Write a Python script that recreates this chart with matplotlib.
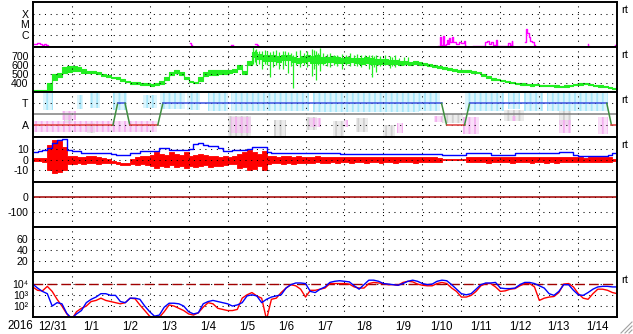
"""Space weather summary strip chart, 12/31/2015 - 1/14/2016."""
import numpy as np
import matplotlib

matplotlib.use("Agg")
import matplotlib.pyplot as plt
from matplotlib.lines import Line2D

plt.rcParams["font.family"] = ["Liberation Sans", "DejaVu Sans"]
plt.rcParams["hatch.linewidth"] = 1.3

# ---- data -----------------------------------------------------------------
# 3-hourly sample grid, day 0 = 12/31 00:00 UT
hours = np.arange(0, 361, 3)

day_labels = ["12/31", "1/1", "1/2", "1/3", "1/4", "1/5", "1/6", "1/7",
              "1/8", "1/9", "1/10", "1/11", "1/12", "1/13", "1/14"]

# X-ray flux (W/m2); nan = below the plot floor
nan = np.nan
xray_day = [0.0, 0.06, 0.12, 0.18, 0.24, 0.28, 0.33, 0.38, 0.40,
            4.03, 4.06, 4.08,
            5.10, 5.13,
            5.70, 5.75, 5.77,
            10.39, 10.44, 10.47, 10.52, 10.55, 10.60, 10.62, 10.65, 10.68,
            10.70, 10.75, 10.78, 10.85, 10.93, 10.98, 11.06, 11.09, 11.11,
            11.29, 11.55, 11.60, 11.65, 11.70, 11.75, 11.80, 11.88, 11.92,
            12.16, 12.20, 12.25, 12.29, 12.31, 12.33,
            12.62, 12.66, 12.69, 12.73, 12.77, 12.80, 12.85, 12.88,
            14.24, 14.26, 14.28,
            14.93, 14.96]
xray_flux = [1.3e-7, 1.6e-7, 1.9e-7, 1.5e-7, 1.1e-7, 1.6e-7, 1.2e-7, 1.0e-7, nan,
             1.7e-7, 1.2e-7, nan,
             1.1e-7, nan,
             1.4e-7, 1.1e-7, nan,
             1.0e-7, 7.0e-7, 1.1e-7, 8.0e-7, 1.2e-7, 1.5e-7, 3.4e-7, 1.5e-7, 5.0e-7,
             2.0e-7, 6.0e-7, 2.0e-7, 1.3e-7, 2.2e-7, 1.8e-7, 3.0e-7, 1.0e-7, nan,
             1.0e-7, 1.0e-7, 2.0e-7, 2.6e-7, 1.5e-7, 2.0e-7, 1.2e-7, 3.5e-7, 1.0e-7,
             1.0e-7, 1.8e-7, 1.2e-7, 3.0e-7, 1.0e-7, nan,
             2.0e-7, 3.7e-6, 1.5e-6, 6.0e-7, 3.0e-7, 2.0e-7, 1.2e-7, nan,
             1.6e-7, 1.0e-7, nan,
             1.1e-7, nan]

# solar wind speed (km/s), 3-hourly core band
wind_lo = [320, 320, 320, 325, 440, 470, 520, 530,
           540, 540, 520, 510, 510, 505, 485, 470,
           455, 445, 430, 410, 395, 390, 385, 380,
           375, 380, 395, 440, 495, 520, 495, 445,
           410, 400, 430, 480, 490, 495, 500, 505,
           515, 530, 560, 505, 600, 690, 670, 650,
           650, 650, 640, 655, 660, 635, 625, 640,
           650, 630, 630, 630, 640, 640, 625, 625,
           630, 635, 625, 620, 630, 620, 610, 615,
           610, 610, 615, 605, 612, 608, 612, 602,
           600, 595, 585, 570, 558, 550, 540, 530,
           530, 525, 520, 510, 485, 462, 442, 432,
           422, 410, 400, 392, 385, 380, 375, 376,
           372, 368, 365, 364, 362, 364, 366, 378,
           386, 390, 382, 374, 364, 356, 346, 340,
           344]
wind_hi = [330, 330, 330, 400, 500, 520, 585, 590,
           590, 585, 560, 535, 535, 530, 505, 490,
           475, 465, 450, 430, 415, 410, 405, 400,
           395, 400, 425, 475, 525, 550, 525, 475,
           430, 420, 470, 530, 545, 545, 545, 545,
           545, 560, 600, 540, 650, 750, 730, 710,
           710, 720, 700, 710, 720, 690, 680, 700,
           710, 700, 710, 690, 690, 700, 690, 680,
           690, 685, 680, 680, 690, 680, 675, 665,
           665, 660, 660, 648, 648, 642, 648, 636,
           625, 615, 605, 590, 578, 570, 560, 550,
           550, 545, 540, 530, 505, 478, 458, 448,
           438, 426, 416, 408, 400, 396, 390, 392,
           385, 382, 380, 377, 375, 377, 380, 392,
           398, 405, 394, 386, 376, 368, 358, 350,
           352]
# individual excursions beyond the core band: day, low, high
wind_spike_day = [5.65, 5.70, 5.73, 5.80, 5.88, 5.95, 6.02, 6.09, 6.16, 6.24,
                  6.33, 6.42, 6.48, 6.55, 6.62, 6.68, 6.76, 6.86, 6.95, 7.05,
                  7.16, 7.22, 7.27, 7.32, 7.37, 7.45, 7.55, 7.63, 7.72, 7.82,
                  7.93, 8.05, 8.15, 8.25, 8.32, 8.42, 8.52, 8.62, 8.70, 8.76,
                  8.81, 8.92, 9.05, 9.16, 9.22, 9.29, 9.40, 9.52, 9.62]
wind_spike_lo = [620, 640, 600, 620, 560, 610, 600, 470, 580, 600,
                 560, 560, 600, 520, 590, 345, 600, 580, 600, 580,
                 480, 560, 440, 600, 540, 600, 590, 580, 600, 590,
                 560, 600, 590, 600, 590, 580, 600, 560, 470, 580,
                 530, 590, 600, 570, 590, 580, 600, 600, 600]
wind_spike_hi = [800, 770, 780, 760, 760, 770, 760, 750, 760, 770,
                 750, 760, 760, 750, 740, 720, 760, 770, 740, 760,
                 780, 770, 760, 740, 790, 740, 730, 740, 720, 720,
                 730, 720, 740, 710, 730, 720, 710, 720, 720, 700,
                 710, 700, 710, 700, 690, 720, 680, 690, 690]

# magnetometer/status panel: T = 1, A = -1
status_day = [0, 2.06, 2.18, 2.37, 2.49, 3.21, 3.34, 10.49, 10.62, 11.08,
              11.21, 14.73, 14.85, 15]
status_val = [-1, -1, 1, 1, -1, -1, 1, 1, -1, -1, 1, 1, -1, -1]
# scatter clouds: (start day, end day, low, high)
cyan_spans = [(0.26, 0.52, 0.4, 1.9), (1.14, 1.29, 0.5, 1.8), (1.47, 1.73, 0.6, 1.9),
              (2.06, 2.42, 0.4, 1.9), (2.83, 3.19, 0.6, 1.8), (3.26, 3.90, 0.5, 1.9),
              (3.95, 4.30, 0.4, 1.9), (4.50, 5.00, 0.3, 1.9), (5.10, 7.10, 0.3, 1.95),
              (7.20, 9.90, 0.2, 1.95), (9.90, 10.45, 0.3, 1.9), (11.10, 12.10, 0.3, 1.95),
              (12.20, 12.50, 0.5, 1.9), (12.60, 13.10, 0.3, 1.95), (13.20, 14.75, 0.3, 1.95)]
pink_spans = [(0.0, 3.20, -1.6, -0.6), (0.75, 1.10, -0.5, 0.3), (5.10, 5.60, -1.7, -0.3),
              (7.10, 7.40, -1.2, -0.4), (8.00, 8.10, -1.2, -0.5), (9.35, 9.50, -1.7, -0.8),
              (10.30, 10.50, -0.7, -0.2), (11.05, 11.45, -1.8, -0.3), (12.30, 12.40, -0.6, -0.2),
              (13.50, 13.80, -1.7, -0.5), (14.50, 14.75, -1.8, -0.3)]
gray_spans = [(0.80, 1.00, -0.8, 0.1), (1.40, 1.60, -1.7, -0.8), (5.00, 5.60, -2.0, -0.2),
              (6.20, 6.50, -2.0, -0.5), (7.00, 7.30, -1.5, -0.3), (7.70, 8.00, -2.0, -0.6),
              (8.30, 8.60, -1.6, -0.4), (9.00, 9.30, -2.0, -1.0), (10.50, 11.05, -0.8, 0.0),
              (12.10, 12.60, -0.6, 0.4), (13.50, 13.80, -1.0, 0.3)]

# IMF Bt (nT), 3-hourly
bt = [7.5, 8.5, 9.5, 11, 16, 19, 19.5, 9,
      8, 8, 6.5, 6.5, 6.5, 6.5, 6.5, 6.5,
      5.5, 5, 4.8, 4.8, 6.4, 6.4, 8, 8.6,
      8.5, 8, 11, 11, 9.5, 9.5, 9.5, 9.5,
      10, 15, 16.5, 14, 13, 13, 11, 8,
      8, 9.5, 9.5, 9.5, 10, 12.5, 12.7, 12.5,
      7, 6.7, 6.7, 6.7, 6.5, 6.7, 6.7, 6.5,
      6.5, 6.5, 6.5, 6.5, 6.5, 6.2, 6.5, 6,
      5.5, 5.5, 5.3, 5.3, 5.3, 5.3, 5.5, 5.3,
      5.3, 5.5, 5.5, 5.3, 5.3, 5.3, 5.3, 5.3,
      5.3, 5.3, 5.3, 5.3, 4.3, 4.3, 4.3, 4.5,
      4.5, 6.7, 6.4, 6.4, 6.4, 6.4, 5, 4.8,
      4.8, 4.8, 4.8, 6.4, 6.4, 6.4, 6.4, 6.4,
      6.4, 6.4, 6.4, 6.4, 7, 7.9, 7.5, 4.5,
      4.1, 4.1, 4.1, 4.1, 4.1, 4.1, 5, 6.4,
      6.4]
# IMF Bz (nT) range within each 3 h
bz_lo = [-1.5, -1.5, -2, -10, -13, -12, -10, -4,
         -4, -3, -4, -3, -3, -4, -3, -3,
         -3, -4, -5, -5, -4, -5, -4, -5,
         -6, -8, -6, -7, -5, -7, -6, -8,
         -6, -7, -6, -5, -7, -6, -6, -5,
         -4, -4, -8, -7, -10, -9, -6, -10,
         -4, -3, -3, -4, -3, -4, -3, -3,
         -3, -3, -2.5, -3, -3, -2.5, -3, -2.5,
         -2.5, -3, -2.5, -2.5, -3, -2.5, -2.5, -3,
         -2.5, -2.5, -3, -2.5, -2.5, -2.5, -3, -2.5,
         -2.5, -2.5, -2, -2, -0.5, -0.5, -0.5, -0.5,
         -0.5, -2, -2.5, -2.5, -2.5, -3, -2.5, -2.5,
         -2.5, -2.5, -3, -2.5, -2.5, -2.5, -3, -2.5,
         -2.5, -3, -2.5, -3, -2.5, -2.5, -2.5, -2,
         -2, -2, -2.5, -2, -2, -2, -2.5, -1.5,
         -1.5]
bz_hi = [1.5, 1.5, 2, 14, 19, 18, 12, 4,
         4, 3, 3, 4, 4, 3, 2, 1,
         -1, -2, -3, -3, 1, 3, 4, 4,
         5, 7, 6, 5, 7, 6, 5, 7,
         4, 5, 6, 5, 4, 4, 3, 4,
         3, 4, 6, 7, 9, 7, 6, 8,
         3.5, 3.5, 3, 3.5, 3.5, 3, 3.5, 3,
         3, 3, 3.5, 3, 3, 3, 2.5, 3,
         3, 2.5, 3, 3, 2.5, 3, 2.5, 3,
         2.5, 3, 2.5, 3, 2.5, 2.5, 3, 2.5,
         2.5, 2.5, 2.5, 1.5, 0.5, 0.5, 0.5, 0.5,
         0.5, 2.5, 2.5, 3, 2.5, 2.5, 3, 2.5,
         2.5, 3, 2.5, 3, 3, 2.5, 2.5, 3,
         3, 2.5, 3, 3, 2.5, 2.5, 3, 2.5,
         2.5, 2, 2.5, 2.5, 2.5, 2.5, 2.5, 1,
         1]

# >2 MeV electron flux, log10, two spacecraft
elec_blue_log = [3.95, 3.6, 3.3, 3.1, 2.0, 2.3, 2.2, 1.35,
                 0.9, 1.3, 1.6, 2.3, 2.6, 2.8, 3.1, 3.1,
                 2.95, 2.95, 2.4, 2.3, 2.7, 2.7, 2.6, 2.0,
                 1.5, 1.1, 1.2, 1.9, 2.25, 2.25, 2.2, 2.0,
                 1.5, 1.3, 1.4, 2.2, 2.4, 2.5, 2.4, 2.3,
                 2.2, 2.0, 2.1, 2.3, 2.9, 3.0, 2.9, 2.3,
                 2.6, 2.8, 2.9, 3.0, 3.6, 3.9, 4.05, 4.05,
                 4.0, 3.3, 3.2, 3.5, 3.7, 4.1, 4.2, 4.25,
                 4.2, 4.15, 3.8, 3.5, 3.9, 4.3, 4.3, 4.2,
                 4.0, 3.95, 3.9, 3.85, 4.0, 4.2, 4.3, 4.2,
                 4.0, 3.9, 3.95, 4.2, 4.3, 4.25, 3.9, 3.5,
                 3.1, 3.0, 3.1, 3.5, 3.9, 4.05, 4.05, 4.1,
                 3.6, 3.55, 3.55, 3.6, 3.9, 4.1, 4.1, 4.0,
                 3.8, 3.6, 3.1, 2.95, 3.3, 3.9, 3.9, 3.4,
                 3.0, 2.95, 3.2, 3.5, 3.7, 3.75, 3.75, 3.7,
                 3.7]
elec_red_log = [3.7, 3.4, 3.35, 3.75, 3.3, 2.6, 2.0, 1.3,
                0.8, 1.5, 1.8, 2.0, 2.4, 2.5, 2.7, 2.5,
                2.4, 2.3, 2.2, 2.3, 2.7, 2.65, 2.1, 1.6,
                1.1, 0.9, 1.0, 1.5, 2.1, 2.0, 1.8, 1.6,
                1.3, 1.2, 1.4, 1.9, 2.3, 2.2, 1.8, 1.7,
                1.6, 1.6, 1.7, 2.7, 3.0, 3.2, 2.9, 2.7,
                0.8, 2.6, 2.7, 3.2, 3.6, 3.9, 3.8, 3.5,
                2.8, 3.4, 3.4, 3.5, 3.6, 4.0, 4.0, 4.0,
                4.0, 3.95, 3.7, 3.6, 3.6, 4.0, 4.1, 4.05,
                4.0, 3.9, 3.9, 3.85, 4.1, 4.2, 4.15, 3.95,
                3.85, 3.8, 3.8, 4.0, 4.1, 4.0, 3.6, 3.3,
                2.8, 2.8, 2.95, 3.3, 3.8, 4.0, 4.0, 3.7,
                3.3, 3.35, 3.5, 3.55, 3.8, 4.0, 4.0, 3.7,
                2.5, 2.7, 2.8, 2.85, 3.2, 3.95, 4.0, 3.7,
                3.1, 2.7, 2.6, 3.1, 3.5, 3.5, 3.4, 3.2,
                3.1]


def main() -> None:
    W, H = 633, 334
    fig = plt.figure(figsize=(W / 100, H / 100), dpi=100)
    t = hours / 24.0

    left, right, top0, ph = 32.7, 617.3, 2.3, 45.0
    axes = []
    for i in range(7):
        top = top0 + i * ph
        ax = fig.add_axes([left / W, 1 - (top + ph) / H, (right - left) / W, ph / H])
        ax.set_xlim(0, 15)
        ax.set_xticks(range(1, 15))
        ax.set_xticks(np.arange(15) + 0.5, minor=True)
        ax.tick_params(which="both", length=0, labelsize=7.6, pad=3)
        ax.tick_params(axis="x", which="both", labelbottom=False)
        ax.grid(True, which="major", color="black", linestyle=(0, (1, 4.5)), linewidth=0.75)
        for sp in ax.spines.values():
            sp.set_linewidth(1.4)
            sp.set_zorder(5)
        axes.append(ax)

    # 1: X-ray
    ax = axes[0]
    ax.set_yscale("log")
    ax.set_ylim(10 ** -7.15, 10 ** -2.93)
    ax.set_yticks([1e-6, 1e-5, 1e-4], ["C", "M", "X"])
    ax.yaxis.set_minor_locator(matplotlib.ticker.NullLocator())
    ax.plot(xray_day, xray_flux, color="#ff00ff", lw=1.0, drawstyle="steps-post")

    # 2: solar wind speed
    ax = axes[1]
    ax.set_ylim(300, 800)
    ax.set_yticks([400, 500, 600, 700], ["400", "500", "600", "700"])
    ax.fill_between(t, wind_lo, wind_hi, step="post", color="#22ee22", lw=0.8)
    ax.vlines(wind_spike_day, wind_spike_lo, wind_spike_hi, color="#22ee22", lw=0.9)

    # 3: T/A status
    ax = axes[2]
    ax.set_ylim(-2.13, 2.01)
    ax.set_yticks([-1, 1], ["A", "T"])
    for spans, col in ((gray_spans, "#d0d0d0"), (pink_spans, "#f4b0f0"), (cyan_spans, "#a8e6fa")):
        for d0, d1, lo, hi in spans:
            ax.fill_between([d0, d1], [lo, lo], [hi, hi], color=col, alpha=0.4, lw=0)
            ax.fill_between([d0, d1], [lo, lo], [hi, hi], facecolor="none",
                            edgecolor=col, hatch="|||", lw=0)
    ax.axhline(0, color="#808080", lw=1.1)
    for k in range(len(status_day) - 1):
        v0, v1 = status_val[k], status_val[k + 1]
        col = "#3c50e0" if v0 == v1 == 1 else "#e03c3c" if v0 == v1 == -1 else "#3f8f3f"
        ax.plot(status_day[k:k + 2], status_val[k:k + 2], color=col, lw=1.1)

    # 4: IMF Bz / Bt
    ax = axes[3]
    ax.set_ylim(-21.5, 21.5)
    ax.set_yticks([-10, 0, 10], ["-10", "0", "10"])
    ax.fill_between(t, bz_lo, bz_hi, step="post", color="#ff0000", lw=0.6)
    ax.plot(t, bt, color="#0000ff", lw=1.0, drawstyle="steps-post")

    # 5: (quiet) index with zero line
    ax = axes[4]
    ax.set_ylim(-200, 100)
    ax.set_yticks([-100, 0], ["-100", "0"])
    ax.axhline(0, color="#a00000", lw=1.1)

    # 6: empty panel
    ax = axes[5]
    ax.set_ylim(0, 80)
    ax.set_yticks([20, 40, 60], ["20", "40", "60"])

    # 7: electrons
    ax = axes[6]
    ax.set_yscale("log")
    ax.set_ylim(1e1, 1e5)
    ax.set_yticks([1e2, 1e3, 1e4], ["10\u00b2", "10\u00b3", "10\u2074"])
    ax.yaxis.set_minor_locator(matplotlib.ticker.NullLocator())
    ax.axhline(1e4, color="#a00000", lw=1.0, linestyle=(0, (7, 3)))
    ax.plot(t, 10 ** np.array(elec_red_log), color="#ff0000", lw=1.0)
    ax.plot(t, 10 ** np.array(elec_blue_log), color="#0000ff", lw=1.0)
    ax.tick_params(axis="x", which="minor", labelbottom=True, labelsize=8.3, pad=3)
    ax.set_xticklabels(day_labels, minor=True)

    fig.text(20 / W, 1 - 326 / H, "2016", ha="center", va="center", fontsize=8.3)

    # "rt" flags on the right
    for i in (0, 1, 2, 3, 6):
        y = top0 + i * ph + 8
        fig.text(621 / W, 1 - y / H, "rt", ha="left", va="center", fontsize=8)

    # window resize grip
    for a in (0, 4, 8):
        fig.add_artist(Line2D([(621 + a) / W, 632 / W], [1 - 333 / H, 1 - (322 + a) / H],
                              transform=fig.transFigure, color="#a0a0a0", lw=0.8))

    fig.savefig("out.png", dpi=100)
    plt.close(fig)


if __name__ == "__main__":
    main()
